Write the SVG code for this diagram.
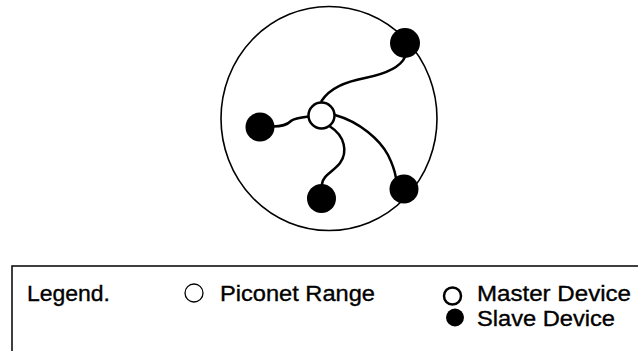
<svg xmlns="http://www.w3.org/2000/svg" width="638" height="351" viewBox="0 0 638 351">
<style>
.link{fill:none;stroke:#000;stroke-width:2.5;stroke-linecap:round}
.range{fill:none;stroke:#000;stroke-width:1.6}
.master{fill:#fff;stroke:#000;stroke-width:2.5}
.slave{fill:#000}
.lbl{font-family:"Liberation Sans",Arial,sans-serif;font-size:22px;fill:#000;stroke:#000;stroke-width:0.35}
</style>
<rect width="638" height="351" fill="#fff"/>
<g id="piconet-range"><ellipse class="range" cx="329" cy="118.5" rx="108" ry="112"/></g>
<g id="connectors">
<path class="link" d="M321.5,101 C330,88 345,82 365,78 C385,74 400,68 405,57"/>
<path class="link" d="M308,116.5 C301,118 294,118 291,121 C288,124 284,126.5 273,126.5"/>
<path class="link" d="M330,126.5 C345,136 348,152 340,163 C333,172 323,175 322,184"/>
<path class="link" d="M335,115 C360,122 380,140 388,155 C393,165 395,172 396,178"/>
</g>
<g id="master"><circle class="master" cx="321.5" cy="115.5" r="13"/></g>
<g id="slave-top-right"><circle class="slave" cx="405" cy="43" r="15"/></g>
<g id="slave-left"><circle class="slave" cx="260" cy="127" r="14.5"/></g>
<g id="slave-bottom"><circle class="slave" cx="321.5" cy="198.5" r="14.5"/></g>
<g id="slave-bottom-right"><circle class="slave" cx="404" cy="189" r="14.5"/></g>
<g id="legend">
<rect x="12" y="266" width="640" height="100" fill="none" stroke="#000" stroke-width="1.5"/>
<text class="lbl" x="27" y="301" textLength="83" lengthAdjust="spacingAndGlyphs">Legend.</text>
<circle cx="194" cy="293" r="9" fill="none" stroke="#000" stroke-width="1.3"/>
<text class="lbl" x="220" y="301" textLength="155" lengthAdjust="spacingAndGlyphs">Piconet Range</text>
<circle cx="452.5" cy="296" r="8.5" fill="#fff" stroke="#000" stroke-width="2.5"/>
<text class="lbl" x="477" y="301" textLength="154" lengthAdjust="spacingAndGlyphs">Master Device</text>
<circle cx="455" cy="317.5" r="9" fill="#000"/>
<text class="lbl" x="477" y="326" textLength="138" lengthAdjust="spacingAndGlyphs">Slave Device</text>
</g>
</svg>
